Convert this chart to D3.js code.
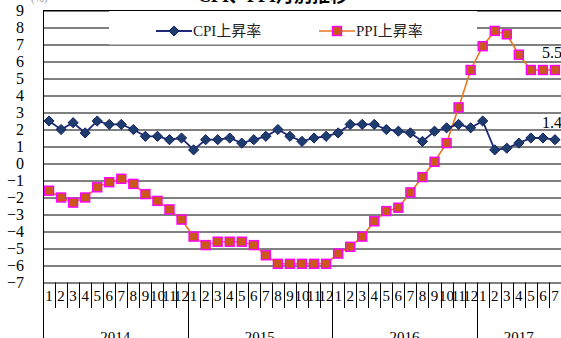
<!DOCTYPE html>
<html>
<head>
<meta charset="utf-8">
<script src="https://cdn.jsdelivr.net/npm/d3@7"></script>
<style>
  html, body { margin: 0; padding: 0; background: #fff; overflow: hidden; }
  svg { display: block; font-family: "Liberation Serif", "Noto Sans CJK JP", serif; }
</style>
</head>
<body>
<svg id="chart" width="561" height="338"></svg>
<script>
// Monthly series, Jan 2014 – Jul 2017
const years = ["2014", "2015", "2016", "2017"];
const monthsPerYear = [12, 12, 12, 7];
const cpi = [2.5, 2.0, 2.4, 1.8, 2.5, 2.3, 2.3, 2.0, 1.6, 1.6, 1.4, 1.5,
             0.8, 1.4, 1.4, 1.5, 1.2, 1.4, 1.6, 2.0, 1.6, 1.3, 1.5, 1.6,
             1.8, 2.3, 2.3, 2.3, 2.0, 1.9, 1.8, 1.3, 1.9, 2.1, 2.3, 2.1,
             2.5, 0.8, 0.9, 1.2, 1.5, 1.5, 1.4];
const ppi = [-1.6, -2.0, -2.3, -2.0, -1.4, -1.1, -0.9, -1.2, -1.8, -2.2, -2.7, -3.3,
             -4.3, -4.8, -4.6, -4.6, -4.6, -4.8, -5.4, -5.9, -5.9, -5.9, -5.9, -5.9,
             -5.3, -4.9, -4.3, -3.4, -2.8, -2.6, -1.7, -0.8, 0.1, 1.2, 3.3, 5.5,
             6.9, 7.8, 7.6, 6.4, 5.5, 5.5, 5.5];
const yTicks = d3.range(-7, 10);
const seriesNames = ["CPI上昇率", "PPI上昇率"];

// Build month rows from the per-year counts
const months = [];
years.forEach((yr, yi) => {
  for (let m = 1; m <= monthsPerYear[yi]; m++) months.push({ year: yr, month: m });
});

const svg = d3.select("#chart");
const plotLeft = 43, plotRight = 561, plotTop = 10.5, plotBottom = 282.5;

const x = d3.scaleBand().domain(d3.range(months.length)).range([plotLeft, plotRight]).padding(0);
const y = d3.scaleLinear().domain([-7, 9]).range([plotBottom, plotTop]);
const cx = i => x(i) + x.bandwidth() / 2;

// Title (partly above the frame) and unit
svg.append("text").attr("x", 273).attr("y", 1.5).attr("text-anchor", "middle")
  .attr("font-size", 18).attr("font-weight", "bold").attr("fill", "#000")
  .text("CPI、PPI月別推移");
svg.append("text").attr("x", 31).attr("y", 2).attr("font-size", 11).attr("fill", "#999").text("(%)");

// Horizontal grid + y labels
const yAxis = d3.axisLeft(y).tickValues(yTicks).tickSizeInner(-(plotRight - plotLeft)).tickSizeOuter(0)
  .tickPadding(19).tickFormat(d3.format("d"));
const gy = svg.append("g").attr("transform", `translate(${plotLeft},0)`).call(yAxis);
gy.select(".domain").remove();
gy.selectAll(".tick line").attr("stroke", "#000").attr("stroke-width", 1);
gy.selectAll(".tick text").attr("font-size", 16).attr("fill", "#000")
  .attr("font-family", "Liberation Serif");

// Legend panel over the upper grid
svg.append("rect").attr("x", 109).attr("y", plotTop + 0.5).attr("width", 368).attr("height", y(7) - plotTop - 1)
  .attr("fill", "#fff");
svg.append("line").attr("x1", 109).attr("x2", 477).attr("y1", y(7)).attr("y2", y(7))
  .attr("stroke", "#bbb").attr("stroke-width", 1);
svg.append("line").attr("x1", plotLeft).attr("x2", plotRight).attr("y1", plotTop).attr("y2", plotTop)
  .attr("stroke", "#000").attr("stroke-width", 1);

// Frame: left axis runs through the category rows
svg.append("line").attr("x1", plotLeft + 0.5).attr("x2", plotLeft + 0.5).attr("y1", plotTop).attr("y2", 338)
  .attr("stroke", "#000").attr("stroke-width", 1);

// Month labels
const xAxis = d3.axisBottom(x).tickSize(0).tickPadding(0).tickFormat(i => months[i].month);
const gx = svg.append("g").attr("transform", `translate(0,${plotBottom})`).call(xAxis);
gx.select(".domain").remove();
gx.selectAll(".tick text").attr("font-size", 15).attr("fill", "#000")
  .attr("font-family", "Liberation Serif").attr("dy", null).attr("y", 18);

// Category dividers; year boundaries run to the bottom
const dividers = d3.range(1, months.length);
svg.append("g").selectAll("line").data(dividers).join("line")
  .attr("x1", i => Math.round(x(i)) + 0.5).attr("x2", i => Math.round(x(i)) + 0.5)
  .attr("y1", plotBottom).attr("y2", i => months[i].month === 1 ? 338 : 308)
  .attr("stroke", "#000").attr("stroke-width", 1);

// Year labels
let start = 0;
years.forEach((yr, yi) => {
  const n = monthsPerYear[yi];
  const mid = (x(start) + x(start + n - 1) + x.bandwidth()) / 2;
  svg.append("text").attr("x", mid).attr("y", 342).attr("text-anchor", "middle")
    .attr("font-size", 15).attr("fill", "#000").text(yr);
  start += n;
});

// Series lines
const line = d3.line().x((d, i) => cx(i)).y(d => y(d));
svg.append("path").datum(ppi).attr("d", line).attr("fill", "none")
  .attr("stroke", "#E8761E").attr("stroke-width", 1.6);
svg.append("path").datum(cpi).attr("d", line).attr("fill", "none")
  .attr("stroke", "#1F2A7A").attr("stroke-width", 1.8);

// Markers
const diamond = d3.symbol().type(d3.symbolDiamond2).size(66);
svg.append("g").selectAll("path").data(cpi).join("path")
  .attr("d", diamond).attr("transform", (d, i) => `translate(${cx(i)},${y(d)})`)
  .attr("fill", "#1C3D6E").attr("stroke", "#15215F").attr("stroke-width", 1);
svg.append("g").selectAll("rect").data(ppi).join("rect")
  .attr("x", (d, i) => cx(i) - 4.5).attr("y", d => y(d) - 4.5)
  .attr("width", 9).attr("height", 9)
  .attr("fill", "#C9581A").attr("stroke", "#FF00FF").attr("stroke-width", 1.4);

// End-value labels
const lastIdx = months.length - 1;
[cpi, ppi].forEach(s => {
  svg.append("text").attr("x", cx(lastIdx) - 13).attr("y", y(s[lastIdx]) - 12)
    .attr("font-size", 16).attr("fill", "#000").text(d3.format(".1f")(s[lastIdx]));
});

// Legend entries
const legY = 31;
const leg = [
  { x: 156, name: seriesNames[0], kind: "cpi" },
  { x: 319, name: seriesNames[1], kind: "ppi" }
];
leg.forEach(l => {
  const g = svg.append("g");
  g.append("line").attr("x1", l.x).attr("x2", l.x + 36).attr("y1", legY).attr("y2", legY)
    .attr("stroke", l.kind === "cpi" ? "#1F2A7A" : "#E8761E").attr("stroke-width", l.kind === "cpi" ? 1.8 : 1.6);
  if (l.kind === "cpi") {
    g.append("path").attr("d", diamond).attr("transform", `translate(${l.x + 18},${legY})`)
      .attr("fill", "#1C3D6E").attr("stroke", "#15215F").attr("stroke-width", 1);
  } else {
    g.append("rect").attr("x", l.x + 18 - 4.5).attr("y", legY - 4.5).attr("width", 9).attr("height", 9)
      .attr("fill", "#C9581A").attr("stroke", "#FF00FF").attr("stroke-width", 1.4);
  }
  g.append("text").attr("x", l.x + 37).attr("y", legY).attr("dominant-baseline", "central")
    .attr("font-size", 15).attr("fill", "#222").text(l.name);
});
</script>
</body>
</html>
